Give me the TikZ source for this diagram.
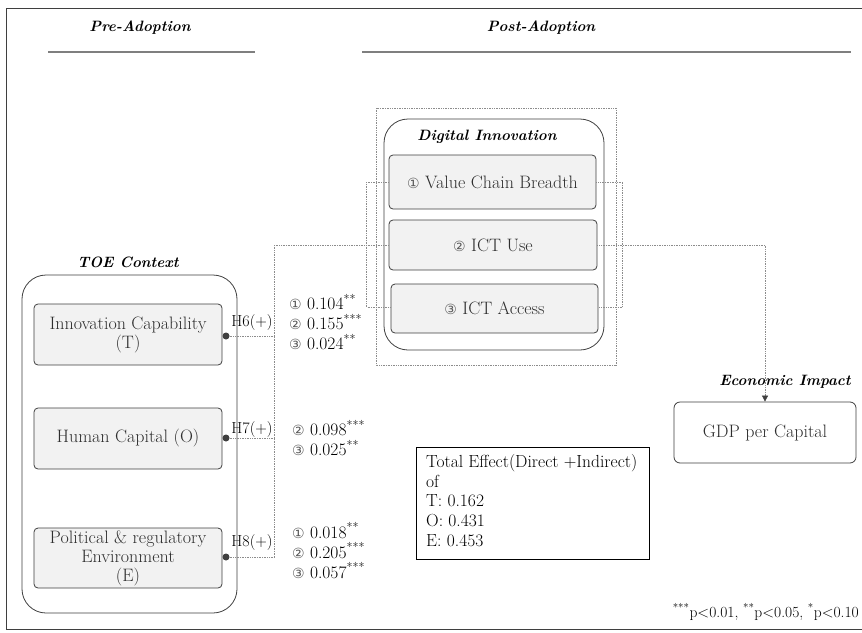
\documentclass[tikz,border=0pt]{standalone}
\usepackage{fontspec}
\newfontfamily\dv{DejaVu Sans}
\usetikzlibrary{arrows.meta}
\definecolor{boxfill}{HTML}{F2F2F2}
\definecolor{boxline}{HTML}{3F3F3F}
\definecolor{txt}{HTML}{2E2E2E}
\definecolor{conn}{HTML}{8C8C8C}
\definecolor{rule}{HTML}{7F7F7F}
\definecolor{circ}{HTML}{5A5A5A}
\newcommand{\cd}[1]{{\dv\fontsize{14}{15}\selectfont\color{circ}#1}}
\newcommand{\st}[1]{\textsuperscript{#1}}
\begin{document}
\begin{tikzpicture}[x=1pt,y=-1pt,
  ibox/.style={draw=boxline, fill=boxfill, rounded corners=4pt, line width=0.8pt, text=txt,
    font=\fontsize{18}{19}\selectfont, align=center, inner sep=0pt},
  bigbox/.style={draw=boxline, rounded corners=24pt, line width=0.8pt},
  ttl/.style={font=\fontsize{15}{18}\selectfont\bfseries\itshape, inner sep=0pt},
  phase/.style={font=\fontsize{15}{18}\selectfont\bfseries\itshape, inner sep=0pt},
  conn/.style={draw=conn, line width=0.7pt, densely dotted},
  coef/.style={font=\fontsize{17.5}{20}\selectfont, align=left, anchor=west, inner sep=0pt},
  hyp/.style={font=\fontsize{16}{18}\selectfont, inner sep=0pt},
  dot/.style={circle, fill=boxline, inner sep=0pt, minimum size=7pt}]
\useasboundingbox (0,0) rectangle (862,632);
% frame
\draw[boxline, line width=0.8pt] (6,8) rectangle (875,629);
% phases
\node[phase] (pre) at (140,28) {Pre-Adoption};
\node[phase] (post) at (541,28) {Post-Adoption};
\draw[rule, line width=1.3pt] (48,52) -- (255,52);
\draw[rule, line width=1.3pt] (362,52) -- (851,52);
% TOE
\node[bigbox, minimum width=215pt, minimum height=338pt] (toe) at (129.5,444) {};
\node[ttl] (toet) at (128,262) {TOE Context};
\node[ibox, minimum width=188pt, minimum height=61pt] (ic) at (128,334.5) {Innovation Capability\\(T)};
\node[ibox, minimum width=188pt, minimum height=61pt] (hc) at (128,438.5) {Human Capital (O)};
\node[ibox, minimum width=188pt, minimum height=60pt] (pe) at (128,558) {Political \& regulatory\\Environment\\(E)};
\node[dot] (dT) at (226,336) {};
\node[dot] (dO) at (226,438) {};
\node[dot] (dE) at (226,557) {};
\node[hyp] (h6) at (252,323) {H6(+)};
\node[hyp] (h7) at (252,430) {H7(+)};
\node[hyp] (h8) at (252,543) {H8(+)};
% Digital innovation
\draw[conn] (376,108) rectangle (616,365);
\node[bigbox, minimum width=220pt, minimum height=231pt] (di) at (494,234.5) {};
\node[ttl] (dit) at (487,137) {Digital Innovation};
\node[ibox, minimum width=207pt, minimum height=54pt] (vcb) at (492.5,182) {\cd{①} Value Chain Breadth};
\node[ibox, minimum width=208pt, minimum height=50pt] (ictu) at (493,245) {\cd{②} ICT Use};
\node[ibox, minimum width=207pt, minimum height=49pt] (icta) at (494.5,308.5) {\cd{③} ICT Access};
% Economic impact
\node[ttl] (eit) at (785,382) {Economic Impact};
\node[ibox, fill=white, rounded corners=6pt, minimum width=182pt, minimum height=61pt] (gdp) at (765,432.5) {GDP per Capital};
% connectors
\coordinate (bt) at (274,245);
\coordinate (bb) at (274,557);
\draw[conn] (bt) -- (bb);
\draw[conn] (dT) -- (dT -| bt);
\draw[conn] (dO) -- (dO -| bt);
\draw[conn] (dE) -- (dE -| bt);
\draw[conn] (bt) -- (ictu.west);
\draw[conn] (vcb.west) -- ++(-22,0) |- ([yshift=1.5pt]icta.west);
\draw[conn] (vcb.east) -- ++(26,0) |- ([yshift=1.5pt]icta.east);
\draw[conn, -{Triangle[length=6pt,width=6pt,color=boxline]}] (ictu.east) -| (gdp.north);
% coefficients
\node[coef] (c1) at (289,322) {\cd{①} 0.104\st{**}\\\cd{②} 0.155\st{***}\\\cd{③} 0.024\st{**}};
\node[coef] (c2) at (292,438) {\cd{②} 0.098\st{***}\\\cd{③} 0.025\st{**}};
\node[coef] (c3) at (292,550.5) {\cd{①} 0.018\st{**}\\\cd{②} 0.205\st{***}\\\cd{③} 0.057\st{***}};
% total effect
\node[draw=black, line width=0.8pt, minimum width=233pt, minimum height=112pt] (tot) at (532.5,503) {};
\node[font=\fontsize{17.5}{19.7}\selectfont, align=left, anchor=north west, inner sep=0pt] (tott) at (426,454)
  {Total Effect(Direct +Indirect)\\of\\T: 0.162\\O: 0.431\\E: 0.453};
% footnote
\node[font=\fontsize{15.5}{17}\selectfont, anchor=east, inner sep=0pt] (fn) at (859,612) {\st{***}p<0.01, \st{**}p<0.05, \st{*}p<0.10};
\end{tikzpicture}
\end{document}
